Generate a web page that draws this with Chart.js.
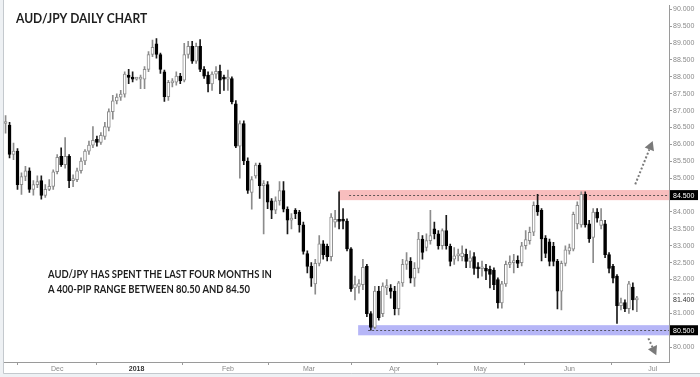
<!DOCTYPE html>
<html>
<head>
<meta charset="utf-8">
<script src="https://cdn.jsdelivr.net/npm/chart.js@4.4.1/dist/chart.umd.min.js"></script>
<style>
  body { margin: 0; background: #ffffff; }
  canvas { display: block; }
</style>
</head>
<body>
<canvas id="audjpyChart" width="700" height="377"></canvas>
<script>
// daily candles, AUD/JPY mid Nov 2017 - late Jun 2018
var opens = [86.62,86.57,85.70,85.80,84.81,85.05,85.22,84.67,84.81,84.93,84.49,84.67,84.76,85.19,85.65,85.40,85.65,84.93,84.96,85.22,
  85.51,85.80,85.98,86.15,86.06,86.24,86.50,86.97,87.29,87.40,87.49,88.05,87.98,87.93,87.93,87.93,88.22,88.66,88.98,88.66,
  88.15,87.41,87.82,87.84,88.02,87.90,88.66,88.90,88.46,88.90,88.22,88.05,87.79,88.08,88.16,87.95,87.93,87.95,87.20,85.95,
  86.62,85.51,84.58,85.07,85.39,84.78,84.81,84.33,84.05,84.33,84.63,84.08,83.76,84.05,84.00,83.62,82.77,82.39,81.87,82.48,
  83.06,82.98,82.68,83.70,83.78,83.75,83.73,82.91,81.75,81.80,81.85,82.39,80.99,80.58,81.66,80.99,81.75,81.75,81.66,81.14,
  81.90,82.45,82.54,82.04,82.33,83.20,82.95,83.15,83.50,83.35,83.00,83.45,82.98,82.60,82.70,82.68,82.75,82.54,82.68,82.33,
  82.32,82.33,82.30,82.28,82.00,81.31,81.87,82.45,82.50,82.57,82.50,83.00,83.15,83.40,84.20,84.05,83.23,83.12,82.98,82.54,
  81.66,82.48,82.85,82.90,83.65,83.62,84.52,83.65,83.25,84.00,83.60,83.65,82.74,82.39,82.10,81.23,81.32,81.14,81.78,81.40];
var highs = [86.85,86.65,86.04,85.88,85.16,85.35,85.31,84.93,85.07,85.07,84.81,84.96,85.25,85.70,85.90,86.20,85.70,85.10,85.30,85.60,
  85.85,86.10,86.53,86.25,86.35,86.65,87.05,87.45,87.50,87.60,88.15,88.22,88.15,87.95,88.05,88.30,88.75,89.09,89.13,88.70,
  88.20,87.90,87.95,88.15,88.10,88.99,89.05,89.05,89.00,89.10,88.30,88.15,88.15,88.30,88.35,88.05,88.20,88.00,87.30,86.70,
  86.70,85.60,85.05,85.45,85.45,84.93,84.90,84.40,84.45,84.90,84.90,84.15,83.95,84.10,84.05,83.70,82.85,82.50,82.60,83.30,
  83.15,83.05,83.95,84.05,84.60,84.10,83.80,82.95,82.10,82.00,82.60,82.45,81.05,81.80,81.80,81.90,82.00,81.85,81.80,81.95,
  82.60,82.80,82.65,82.50,83.40,83.30,83.35,84.05,83.70,83.45,83.50,83.90,83.05,82.95,82.90,83.00,82.90,82.85,82.80,82.50,
  82.55,82.45,82.40,82.35,82.05,81.95,82.55,82.70,82.75,82.70,83.10,83.45,83.55,84.30,84.52,84.10,83.30,83.20,83.10,82.60,
  82.55,83.00,83.05,84.00,84.30,84.60,84.60,83.75,84.10,84.10,84.10,83.75,82.80,82.45,82.15,81.45,81.40,81.95,81.90,81.50];
var lows = [86.33,85.60,85.55,84.67,84.52,84.93,84.58,84.50,84.72,84.38,84.43,84.63,84.67,85.13,85.35,85.30,84.72,84.75,84.90,85.15,
  85.40,85.70,85.90,85.95,86.00,86.15,86.40,86.75,87.20,87.30,87.40,87.80,87.85,87.90,87.65,87.65,88.15,88.60,88.55,88.10,
  87.27,87.30,87.70,87.75,87.80,87.85,88.55,88.40,88.40,88.15,87.95,87.55,87.60,87.95,87.50,87.60,87.60,87.20,85.90,85.00,
  85.40,84.55,84.08,85.00,84.40,83.35,84.10,83.80,83.95,84.20,84.00,83.35,83.50,83.80,83.40,82.75,82.20,81.80,81.57,82.40,
  82.60,82.55,82.55,83.55,83.50,83.50,82.85,81.65,81.40,81.60,81.70,80.90,80.50,80.55,80.80,80.90,81.55,81.45,80.95,80.95,
  81.80,82.30,81.90,81.80,82.20,82.60,82.85,83.05,83.20,82.90,82.90,82.90,82.40,82.45,82.55,82.55,82.35,82.35,82.15,82.05,
  82.10,82.00,81.75,81.70,81.15,81.15,81.80,82.35,82.20,82.35,82.40,82.90,83.05,83.30,83.90,82.55,82.65,82.40,82.40,81.13,
  81.10,82.40,82.75,82.85,83.50,83.55,83.55,83.10,82.50,83.70,83.50,82.65,82.20,81.90,80.70,81.10,81.05,81.00,81.10,81.05];
var closes = [86.65,85.70,85.80,84.81,85.05,85.22,84.67,84.81,84.90,84.49,84.67,84.76,85.19,85.62,85.40,85.65,84.93,84.99,85.22,85.51,
  85.80,85.98,86.12,86.06,86.27,86.53,86.97,87.29,87.40,87.49,88.08,87.98,87.93,87.93,87.95,88.22,88.66,88.87,88.66,88.22,
  87.41,87.84,87.88,88.02,87.88,88.66,88.90,88.46,88.90,88.22,88.02,87.79,88.08,88.16,87.90,87.93,87.95,87.26,85.95,86.62,
  85.51,84.64,84.96,85.39,84.78,84.82,84.29,84.05,84.33,84.63,84.08,83.76,83.78,83.95,83.62,82.83,82.39,82.04,82.48,83.06,
  82.74,82.68,83.85,83.78,83.72,83.73,82.91,81.72,81.85,81.88,82.36,80.99,80.58,81.66,80.87,81.81,81.82,81.65,81.14,81.90,
  82.45,82.56,82.04,82.33,83.20,82.80,83.15,83.30,83.35,83.00,83.45,83.00,82.54,82.70,82.72,82.78,82.54,82.64,82.33,82.32,
  82.33,82.25,82.15,81.85,81.31,81.87,82.45,82.50,82.52,82.48,83.00,83.18,83.40,84.20,84.00,83.20,82.77,82.54,82.54,81.66,
  82.48,82.88,82.95,83.93,84.20,84.52,83.62,83.21,84.00,83.82,83.75,82.74,82.33,82.04,81.23,81.32,81.14,81.87,81.40,81.42];

// first trading day of each month (candle index) and the axis labels
var monthTicks = [13, 33, 56, 76.4, 98, 119.5, 142, 163];
var monthLabels = ['Dec', '2018', 'Feb', 'Mar', 'Apr', 'May', 'Jun', 'Jul'];

// range levels and where the shaded bands begin
var rangeTop = 84.5;
var rangeBottom = 80.5;
var rangeTopStart = 84;
var rangeBottomStart = 88.8;
var lastPrice = 81.40;

var titleText = 'AUD/JPY DAILY CHART';
var noteLines = ['AUD/JPY HAS SPENT THE LAST FOUR MONTHS IN', 'A 400-PIP RANGE BETWEEN 80.50 AND 84.50'];

var wickData = [];
var bodyData = [];
var wickColors = [];
var bodyFill = [];
var bodyBorder = [];
for (var i = 0; i < opens.length; i++) {
  var up = closes[i] >= opens[i];
  wickData.push({ x: i, y: [lows[i], highs[i]] });
  bodyData.push({ x: i, y: [opens[i], closes[i]] });
  wickColors.push(up ? '#8c8c8c' : '#1a1a1a');
  bodyFill.push(up ? '#ffffff' : '#000000');
  bodyBorder.push(up ? '#8c8c8c' : '#000000');
}

// narrow bold text (the original uses a condensed face)
function narrowText(ctx, text, x, y, font, squeeze) {
  ctx.save();
  ctx.font = font;
  ctx.translate(x, y);
  ctx.scale(squeeze, 1);
  ctx.fillText(text, 0, 0);
  ctx.restore();
}

const overlay = {
  id: 'overlay',
  beforeDraw(chart) {
    const ctx = chart.ctx;
    ctx.save();
    ctx.fillStyle = '#eef1f4';
    ctx.fillRect(0, 0, 700, 377);
    ctx.fillStyle = '#ffffff';
    ctx.fillRect(3, 0, 697, 373);
    ctx.strokeStyle = '#c4c9ce';
    ctx.lineWidth = 1;
    ctx.beginPath();
    ctx.moveTo(3.5, 0);
    ctx.lineTo(3.5, 373.5);
    ctx.lineTo(700, 373.5);
    ctx.stroke();
    ctx.restore();
  },
  beforeDatasetsDraw(chart) {
    const ctx = chart.ctx;
    const xs = chart.scales.x;
    const ys = chart.scales.y;
    const right = chart.chartArea.right;
    function band(level, start, fill) {
      const x0 = xs.getPixelForValue(start);
      const yTop = ys.getPixelForValue(level + 0.15);
      const yBot = ys.getPixelForValue(level - 0.15);
      ctx.fillStyle = fill;
      ctx.fillRect(x0, yTop, right - x0, yBot - yTop);
      const yl = Math.round(ys.getPixelForValue(level)) + 0.5;
      ctx.strokeStyle = 'rgba(60,60,60,0.8)';
      ctx.lineWidth = 1;
      ctx.setLineDash([2, 2]);
      ctx.beginPath();
      ctx.moveTo(x0 + 10, yl);
      ctx.lineTo(right, yl);
      ctx.stroke();
      ctx.setLineDash([]);
    }
    ctx.save();
    band(rangeTop, rangeTopStart, 'rgba(240,110,110,0.45)');
    band(rangeBottom, rangeBottomStart, 'rgba(110,110,240,0.5)');
    ctx.restore();
  },
  afterDraw(chart) {
    const ctx = chart.ctx;
    const xs = chart.scales.x;
    const ys = chart.scales.y;
    const area = chart.chartArea;
    ctx.save();

    // title and note
    ctx.fillStyle = '#1e1e1e';
    ctx.textBaseline = 'middle';
    ctx.textAlign = 'left';
    narrowText(ctx, titleText, 16, 18, 'bold 14px Lato', 0.86);
    narrowText(ctx, noteLines[0], 48, 274, 'bold 11px Lato', 0.86);
    narrowText(ctx, noteLines[1], 48, 289, 'bold 11px Lato', 0.86);

    // dotted arrows
    function arrow(x1, y1, x2, y2) {
      const ax = xs.getPixelForValue(x1), ay = ys.getPixelForValue(y1);
      const bx = xs.getPixelForValue(x2), by = ys.getPixelForValue(y2);
      const ang = Math.atan2(by - ay, bx - ax);
      const hl = 9;
      ctx.strokeStyle = '#7a7a7a';
      ctx.fillStyle = '#7a7a7a';
      ctx.lineWidth = 2;
      ctx.setLineDash([2, 2]);
      ctx.beginPath();
      ctx.moveTo(ax, ay);
      ctx.lineTo(bx - hl * Math.cos(ang), by - hl * Math.sin(ang));
      ctx.stroke();
      ctx.setLineDash([]);
      ctx.beginPath();
      ctx.moveTo(bx, by);
      ctx.lineTo(bx - hl * Math.cos(ang) - 5 * Math.sin(ang), by - hl * Math.sin(ang) + 5 * Math.cos(ang));
      ctx.lineTo(bx - hl * Math.cos(ang) + 5 * Math.sin(ang), by - hl * Math.sin(ang) - 5 * Math.cos(ang));
      ctx.closePath();
      ctx.fill();
    }
    arrow(158.6, 84.82, 163, 86.1);
    arrow(161.9, 80.26, 163.9, 79.76);

    // price boxes on the axis
    function priceBox(v, bg, fg) {
      const y = ys.getPixelForValue(v);
      ctx.fillStyle = bg;
      ctx.fillRect(area.right + 1, y - 5, 28, 10);
      ctx.fillStyle = fg;
      ctx.font = '7px "Liberation Sans"';
      ctx.textAlign = 'left';
      ctx.fillText(v.toFixed(3), area.right + 4, y + 0.5);
    }
    priceBox(rangeTop, '#000000', '#ffffff');
    priceBox(rangeBottom, '#000000', '#ffffff');
    priceBox(lastPrice, '#ffffff', '#333333');
    ctx.restore();
  }
};

new Chart(document.getElementById('audjpyChart'), {
  type: 'bar',
  data: {
    datasets: [
      {
        label: 'body',
        data: bodyData,
        order: 0,
        grouped: false,
        barThickness: 3,
        minBarLength: 2,
        backgroundColor: bodyFill,
        borderColor: bodyBorder,
        borderWidth: 1,
        borderSkipped: false
      },
      {
        label: 'wick',
        data: wickData,
        order: 1,
        grouped: false,
        barThickness: 1,
        backgroundColor: wickColors,
        borderWidth: 0
      }
    ]
  },
  options: {
    responsive: false,
    animation: false,
    layout: { padding: { left: 4, right: 0, top: 0, bottom: 0 } },
    plugins: {
      legend: { display: false },
      tooltip: { enabled: false },
      title: { display: false }
    },
    scales: {
      x: {
        type: 'linear',
        offset: false,
        min: -0.4,
        max: 167.1,
        afterBuildTicks: function (scale) {
          scale.ticks = monthTicks.map(function (v) { return { value: v }; });
        },
        afterFit: function (scale) { scale.height = 15; },
        grid: { drawOnChartArea: false, drawTicks: true, tickLength: 3, color: '#9a9a9a' },
        border: { color: '#9a9a9a' },
        ticks: {
          autoSkip: false,
          maxRotation: 0,
          padding: 0,
          color: function (c) { return c.index === 1 ? '#333333' : '#8a8a8a'; },
          font: function (c) {
            return { family: 'Liberation Sans', size: 7, weight: c.index === 1 ? 'bold' : 'normal' };
          },
          callback: function (value, index) { return monthLabels[index]; }
        }
      },
      y: {
        position: 'right',
        min: 79.56,
        max: 90.12,
        afterFit: function (scale) { scale.width = 31; },
        grid: { drawOnChartArea: false, drawTicks: true, tickLength: 3, color: '#9a9a9a' },
        border: { color: '#9a9a9a' },
        ticks: {
          stepSize: 0.5,
          includeBounds: false,
          padding: 1,
          color: '#8a8a8a',
          font: { family: 'Liberation Sans', size: 7 },
          callback: function (v) { return v.toFixed(3); }
        }
      }
    }
  },
  plugins: [overlay]
});
</script>
</body>
</html>
